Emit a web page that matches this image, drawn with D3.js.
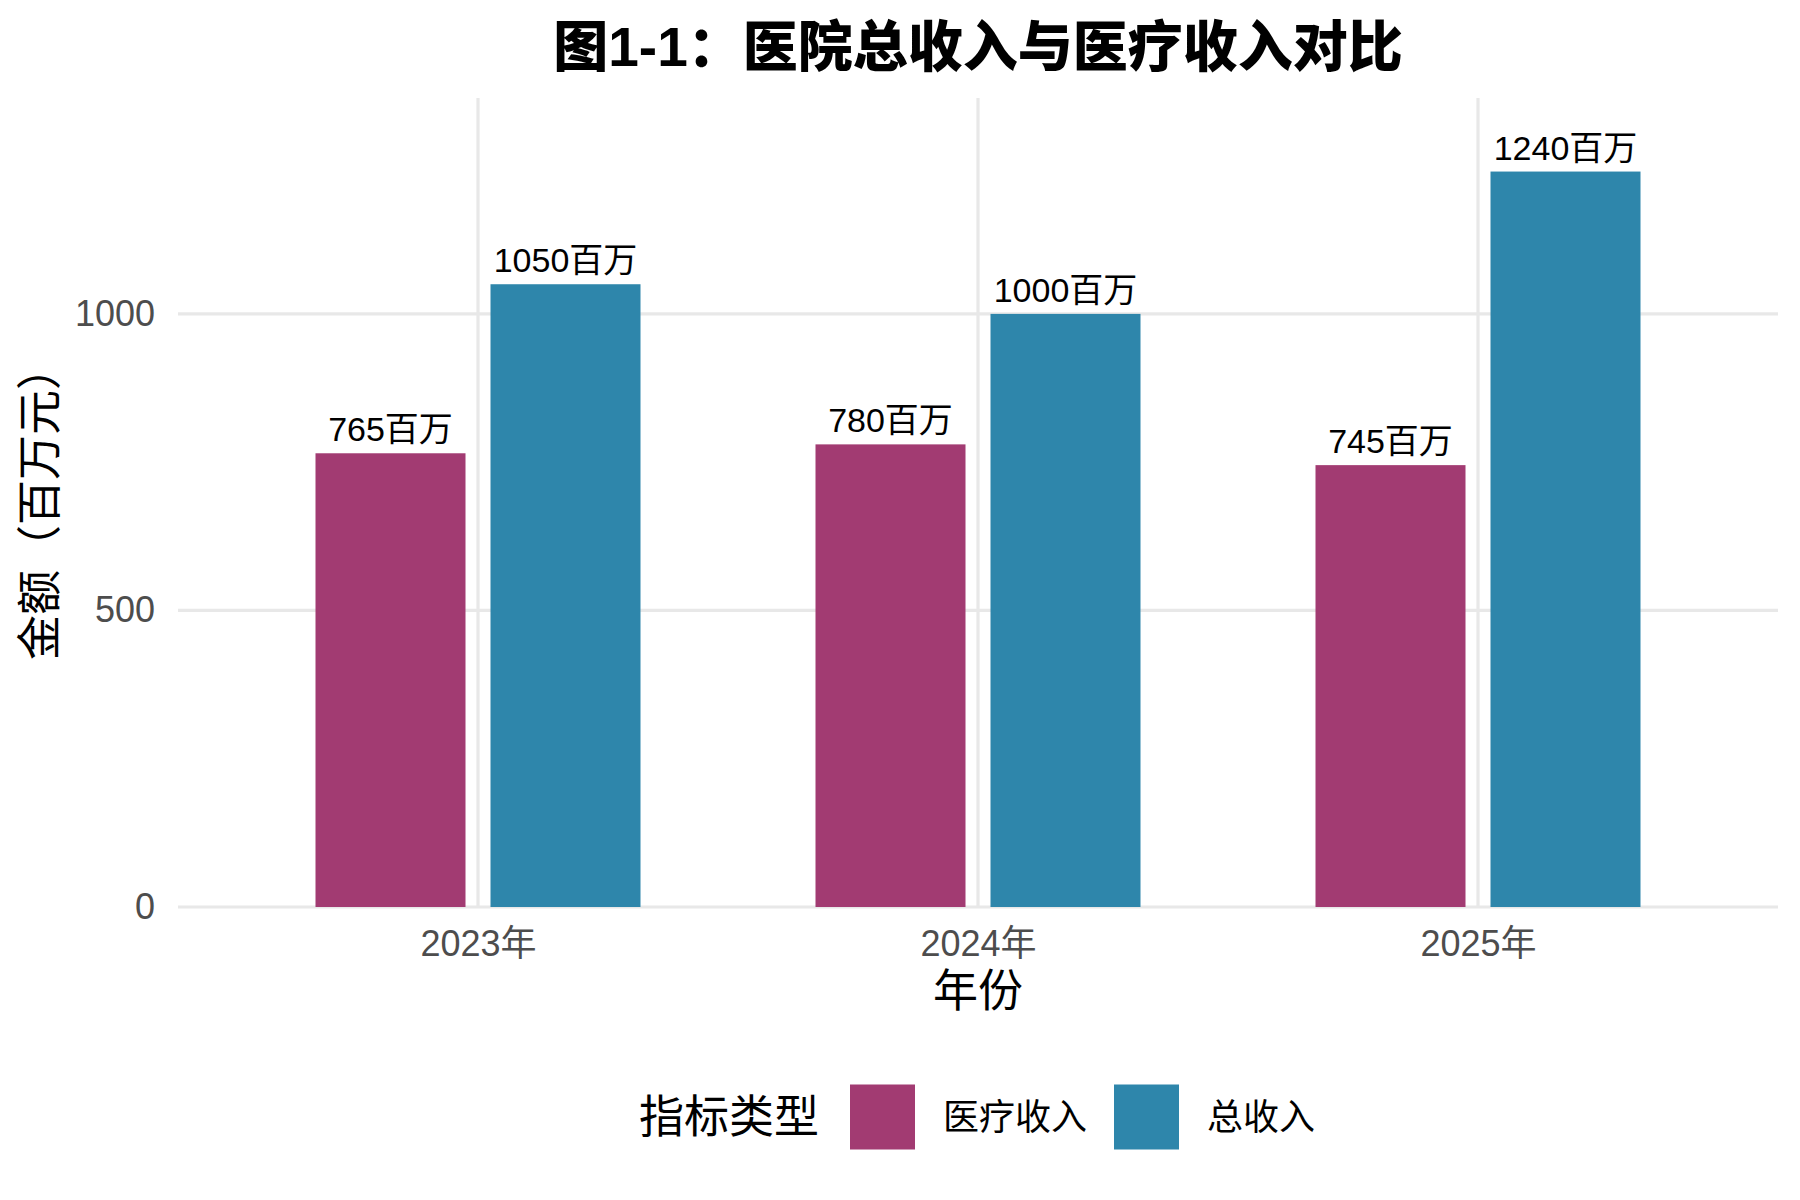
<!DOCTYPE html>
<html>
<head>
<meta charset="utf-8">
<script src="https://cdn.jsdelivr.net/npm/d3@7"></script>
<style>
    body { margin: 0; background: #ffffff; }
    text { font-family: 'Liberation Sans', 'Noto Sans CJK SC', sans-serif; }
</style>
</head>
<body>
<div id="chart"></div>
<script>

// data
var years = ['2023年', '2024年', '2025年'];
var seriesNames = ['医疗收入', '总收入'];
var medicalIncome = [765, 780, 745];
var totalIncome = [1050, 1000, 1240];
var yTicks = [0, 500, 1000];
var seriesColors = ['#A23B72', '#2E86AB'];

var width = 1800,
    height = 1200;
var margin = {top: 98, right: 22, bottom: 293, left: 178};

var svg = d3.select('#chart').append('svg')
    .attr('width', width)
    .attr('height', height);

function buildRows() {
    /*
    This function pairs every year with both series.
    */
    var rows = [];
    for (var i = 0; i < years.length; i++) {
        rows.push({year: years[i], series: seriesNames[0], value: medicalIncome[i]});
        rows.push({year: years[i], series: seriesNames[1], value: totalIncome[i]});
    }
    return rows;
}

var rows = buildRows();
var maxValue = d3.max(totalIncome.concat(medicalIncome));

var x = d3.scalePoint()
    .domain(years)
    .range([margin.left, width - margin.right])
    .padding(0.6);
var step = x.step();

// dodge the two series around the year position
var xSub = d3.scalePoint()
    .domain(seriesNames)
    .range([-0.175 * step, 0.175 * step]);
var barWidth = 0.3 * step;

var y = d3.scaleLinear()
    .domain([0, maxValue * 1.1])
    .range([height - margin.bottom, margin.top]);

var color = d3.scaleOrdinal()
    .domain(seriesNames)
    .range(seriesColors);

// gridlines
svg.append('g').selectAll('line')
    .data(yTicks)
    .enter().append('line')
    .attr('x1', margin.left)
    .attr('x2', width - margin.right)
    .attr('y1', function(d) { return y(d); })
    .attr('y2', function(d) { return y(d); })
    .style('stroke', '#E8E8E8')
    .style('stroke-width', 3.2);

svg.append('g').selectAll('line')
    .data(years)
    .enter().append('line')
    .attr('x1', function(d) { return x(d); })
    .attr('x2', function(d) { return x(d); })
    .attr('y1', margin.top)
    .attr('y2', height - margin.bottom)
    .style('stroke', '#E8E8E8')
    .style('stroke-width', 3.2);

// bars
svg.append('g').selectAll('rect')
    .data(rows)
    .enter().append('rect')
    .attr('x', function(d) { return x(d.year) + xSub(d.series) - barWidth / 2; })
    .attr('y', function(d) { return y(d.value); })
    .attr('width', barWidth)
    .attr('height', function(d) { return y(0) - y(d.value); })
    .style('fill', function(d) { return color(d.series); });

// value labels
svg.append('g').selectAll('text')
    .data(rows)
    .enter().append('text')
    .attr('x', function(d) { return x(d.year) + xSub(d.series); })
    .attr('y', function(d) { return y(d.value) - 12; })
    .attr('text-anchor', 'middle')
    .style('font-size', '34px')
    .style('fill', '#000000')
    .text(function(d) { return d.value + '百万'; });

// axes without lines or ticks
var yAxis = svg.append('g')
    .attr('transform', 'translate(' + margin.left + ',0)')
    .call(d3.axisLeft(y).tickValues(yTicks).tickFormat(d3.format('d')).tickSize(0).tickPadding(23));

var xAxis = svg.append('g')
    .attr('transform', 'translate(0,' + (height - margin.bottom) + ')')
    .call(d3.axisBottom(x).tickSize(0).tickPadding(23));

[yAxis, xAxis].forEach(function(axis) {
    axis.select('.domain').remove();
    axis.selectAll('text')
        .style('font-family', "'Liberation Sans', 'Noto Sans CJK SC', sans-serif")
        .style('font-size', '36px')
        .style('fill', '#4D4D4D');
});

// titles
var plotCenter = (margin.left + width - margin.right) / 2;

svg.append('text')
    .attr('x', plotCenter)
    .attr('y', 66)
    .attr('text-anchor', 'middle')
    .style('font-size', '55px')
    .style('font-weight', '900')
    .text('图1-1：医院总收入与医疗收入对比');

svg.append('text')
    .attr('x', plotCenter)
    .attr('y', 1007)
    .attr('text-anchor', 'middle')
    .style('font-size', '45px')
    .text('年份');

svg.append('text')
    .attr('transform', 'translate(56,' + ((margin.top + height - margin.bottom) / 2) + ') rotate(-90)')
    .attr('text-anchor', 'middle')
    .style('font-size', '45px')
    .text('金额（百万元）');

// legend
var legend = svg.append('g')
    .attr('transform', 'translate(0,1117)');

legend.append('text')
    .attr('x', 639)
    .attr('y', 0)
    .attr('dy', '0.35em')
    .style('font-size', '45px')
    .text('指标类型');

var legendX = [850, 1114];

var items = legend.selectAll('.item')
    .data(seriesNames)
    .enter().append('g')
    .attr('class', 'item')
    .attr('transform', function(d, i) { return 'translate(' + legendX[i] + ',0)'; });

items.append('rect')
    .attr('x', 0)
    .attr('y', -32.5)
    .attr('width', 65)
    .attr('height', 65)
    .style('fill', function(d) { return color(d); });

items.append('text')
    .attr('x', 93)
    .attr('y', 0)
    .attr('dy', '0.35em')
    .style('font-size', '36px')
    .text(function(d) { return d; });

</script>
</body>
</html>
